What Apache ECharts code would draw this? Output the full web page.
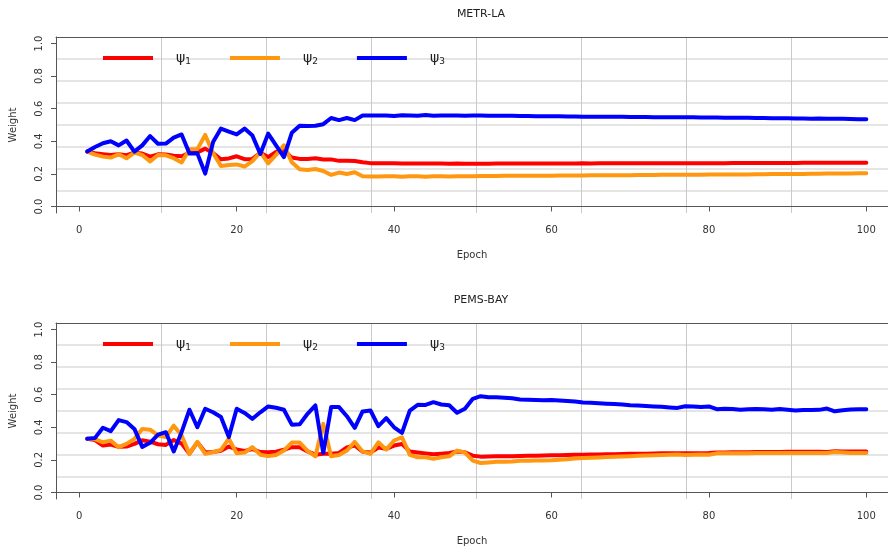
<!DOCTYPE html>
<html>
<head>
<meta charset="utf-8">
<script src="https://cdn.jsdelivr.net/npm/echarts@6/dist/echarts.min.js"></script>
<style>
  html, body { margin: 0; padding: 0; background: #fff; }
  #chart { width: 888px; height: 548px; }
</style>
</head>
<body>
<div id="chart"></div>
<script>
// epochs 1..100
const epochs = Array.from({ length: 100 }, (_, i) => i + 1);
const xTicks = [0, 20, 40, 60, 80, 100];
const yTicks = [0, 0.2, 0.4, 0.6, 0.8, 1.0];
const titles = ["METR-LA", "PEMS-BAY"];
const names = ["ψ1", "ψ2", "ψ3"];
const colors = ["#ff0000", "#ff9810", "#0000ff"];

// METR-LA
const metrPsi1 = [
  0.337, 0.327, 0.321, 0.316, 0.320, 0.315, 0.330, 0.325, 0.306, 0.320,
  0.319, 0.312, 0.308, 0.330, 0.332, 0.355, 0.327, 0.290, 0.295, 0.308,
  0.290, 0.292, 0.330, 0.303, 0.335, 0.345, 0.300, 0.292, 0.291, 0.296,
  0.288, 0.289, 0.280, 0.281, 0.279, 0.271, 0.266, 0.266, 0.265, 0.265,
  0.264, 0.264, 0.263, 0.264, 0.263, 0.263, 0.262, 0.263, 0.262, 0.262,
  0.262, 0.262, 0.263, 0.263, 0.263, 0.263, 0.263, 0.264, 0.264, 0.264,
  0.264, 0.264, 0.264, 0.265, 0.264, 0.265, 0.265, 0.265, 0.265, 0.265,
  0.265, 0.265, 0.266, 0.266, 0.266, 0.266, 0.266, 0.266, 0.266, 0.266,
  0.266, 0.266, 0.267, 0.267, 0.267, 0.267, 0.267, 0.267, 0.267, 0.267,
  0.267, 0.268, 0.268, 0.268, 0.268, 0.268, 0.268, 0.269, 0.269, 0.269
];
const metrPsi2 = [
  0.337, 0.318, 0.306, 0.300, 0.320, 0.296, 0.330, 0.316, 0.277, 0.316,
  0.314, 0.296, 0.270, 0.351, 0.352, 0.439, 0.327, 0.249, 0.255, 0.258,
  0.245, 0.278, 0.333, 0.265, 0.316, 0.375, 0.272, 0.228, 0.224, 0.230,
  0.218, 0.194, 0.208, 0.199, 0.210, 0.186, 0.184, 0.184, 0.185, 0.186,
  0.183, 0.185, 0.186, 0.182, 0.185, 0.186, 0.184, 0.186, 0.186, 0.186,
  0.187, 0.187, 0.187, 0.188, 0.188, 0.188, 0.188, 0.189, 0.189, 0.189,
  0.190, 0.190, 0.190, 0.190, 0.191, 0.191, 0.191, 0.192, 0.192, 0.192,
  0.193, 0.193, 0.193, 0.194, 0.194, 0.194, 0.195, 0.195, 0.195, 0.196,
  0.196, 0.196, 0.197, 0.197, 0.197, 0.198, 0.198, 0.199, 0.199, 0.200,
  0.200, 0.200, 0.201, 0.201, 0.202, 0.202, 0.203, 0.203, 0.204, 0.204
];
const metrPsi3 = [
  0.337, 0.365, 0.388, 0.400, 0.375, 0.405, 0.337, 0.375, 0.432, 0.385,
  0.386, 0.423, 0.442, 0.325, 0.326, 0.202, 0.395, 0.478, 0.460, 0.442,
  0.478, 0.435, 0.322, 0.447, 0.375, 0.303, 0.452, 0.495, 0.494, 0.495,
  0.505, 0.543, 0.530, 0.543, 0.530, 0.558, 0.559, 0.558, 0.559, 0.555,
  0.560, 0.558, 0.557, 0.561, 0.557, 0.559, 0.558, 0.558, 0.557, 0.558,
  0.558, 0.557, 0.557, 0.556, 0.556, 0.555, 0.555, 0.554, 0.554, 0.553,
  0.553, 0.552, 0.552, 0.551, 0.551, 0.551, 0.550, 0.550, 0.550, 0.549,
  0.549, 0.549, 0.548, 0.548, 0.548, 0.547, 0.547, 0.547, 0.546, 0.546,
  0.546, 0.545, 0.545, 0.544, 0.544, 0.543, 0.543, 0.542, 0.542, 0.541,
  0.540, 0.540, 0.539, 0.540, 0.539, 0.538, 0.538, 0.537, 0.536, 0.535
];

// PEMS-BAY
const pemsPsi1 = [
  0.330, 0.322, 0.288, 0.294, 0.280, 0.282, 0.298, 0.320, 0.312, 0.296,
  0.292, 0.322, 0.300, 0.238, 0.308, 0.247, 0.248, 0.256, 0.282, 0.264,
  0.255, 0.266, 0.248, 0.247, 0.250, 0.262, 0.278, 0.278, 0.252, 0.232,
  0.238, 0.238, 0.243, 0.276, 0.288, 0.250, 0.245, 0.276, 0.268, 0.288,
  0.298, 0.251, 0.245, 0.240, 0.234, 0.238, 0.243, 0.251, 0.247, 0.226,
  0.220, 0.221, 0.222, 0.222, 0.223, 0.224, 0.225, 0.226, 0.227, 0.228,
  0.229, 0.230, 0.231, 0.232, 0.233, 0.233, 0.234, 0.235, 0.236, 0.237,
  0.237, 0.238, 0.239, 0.240, 0.240, 0.241, 0.241, 0.240, 0.241, 0.242,
  0.246, 0.246, 0.247, 0.247, 0.247, 0.248, 0.248, 0.248, 0.249, 0.250,
  0.250, 0.250, 0.250, 0.250, 0.249, 0.253, 0.251, 0.251, 0.251, 0.251
];
const pemsPsi2 = [
  0.330, 0.328, 0.308, 0.318, 0.278, 0.298, 0.328, 0.390, 0.385, 0.350,
  0.340, 0.410, 0.350, 0.237, 0.310, 0.237, 0.247, 0.262, 0.330, 0.240,
  0.245, 0.278, 0.232, 0.223, 0.230, 0.257, 0.306, 0.306, 0.255, 0.222,
  0.421, 0.222, 0.230, 0.257, 0.310, 0.252, 0.237, 0.308, 0.263, 0.319,
  0.339, 0.231, 0.216, 0.216, 0.206, 0.216, 0.222, 0.257, 0.245, 0.196,
  0.181, 0.184, 0.188, 0.188, 0.190, 0.194, 0.195, 0.196, 0.197, 0.198,
  0.201, 0.204, 0.208, 0.211, 0.213, 0.215, 0.217, 0.219, 0.221, 0.223,
  0.225, 0.227, 0.229, 0.230, 0.231, 0.233, 0.230, 0.231, 0.233, 0.231,
  0.240, 0.240, 0.241, 0.241, 0.241, 0.242, 0.242, 0.242, 0.243, 0.243,
  0.243, 0.243, 0.243, 0.243, 0.242, 0.248, 0.245, 0.243, 0.242, 0.242
];
const pemsPsi3 = [
  0.330, 0.335, 0.397, 0.376, 0.444, 0.432, 0.390, 0.280, 0.305, 0.355,
  0.370, 0.252, 0.370, 0.508, 0.400, 0.514, 0.492, 0.463, 0.340, 0.514,
  0.488, 0.452, 0.492, 0.528, 0.520, 0.508, 0.416, 0.418, 0.483, 0.534,
  0.243, 0.524, 0.524, 0.468, 0.397, 0.497, 0.503, 0.407, 0.456, 0.400,
  0.366, 0.503, 0.538, 0.537, 0.554, 0.540, 0.535, 0.489, 0.514, 0.575,
  0.591, 0.585, 0.584, 0.582, 0.578, 0.571, 0.569, 0.568, 0.566, 0.567,
  0.564, 0.562, 0.558, 0.552, 0.550, 0.547, 0.545, 0.543, 0.540, 0.535,
  0.533, 0.531, 0.528, 0.526, 0.522, 0.519, 0.529, 0.528, 0.524, 0.528,
  0.511, 0.514, 0.512, 0.508, 0.510, 0.512, 0.511, 0.507, 0.512, 0.507,
  0.503, 0.506, 0.506, 0.507, 0.515, 0.498, 0.505, 0.509, 0.510, 0.510
];

const panels = [
  [metrPsi1, metrPsi2, metrPsi3],
  [pemsPsi1, pemsPsi2, pemsPsi3]
];

const FONT = "DejaVu Sans";
const plotTops = [37, 323];
const plotH = 176;
const plotLeft = 56;
// the plot box runs past the right edge of the picture; the grid is clamped
// to the canvas, so the axes are cut at the canvas edge instead
const plotW = 888 - plotLeft;
const pxPerEpoch = 7.87;
const xMin = -2.96;
const xMax = xMin + plotW / pxPerEpoch;
const cellW = 840 / 8;

const chart = echarts.init(document.getElementById("chart"), null, { renderer: "canvas" });

const grid = [];
const xAxis = [];
const yAxis = [];
const series = [];
const legend = [];
const title = [];

panels.forEach((lines, p) => {
  grid.push({ left: plotLeft, top: plotTops[p], width: plotW, height: plotH, show: false });

  title.push({
    text: titles[p],
    left: 476,
    top: plotTops[p] - 33,
    textAlign: "center",
    textStyle: { fontFamily: FONT, fontSize: 11, fontWeight: "normal", color: "#222" }
  });

  xAxis.push({
    type: "value",
    gridIndex: p,
    min: xMin,
    max: xMax,
    name: "Epoch",
    nameLocation: "middle",
    nameGap: 37,
    nameTextStyle: { fontFamily: FONT, fontSize: 10, color: "#333" },
    axisLine: { show: true, lineStyle: { color: "#555", width: 1 } },
    axisTick: { show: true, length: 5, customValues: xTicks, lineStyle: { color: "#555" } },
    axisLabel: { customValues: xTicks, margin: 12, fontFamily: FONT, fontSize: 10, color: "#333" },
    splitLine: { show: false }
  });
  // grid lines (R grid(): 8 equal cells) + top border
  xAxis.push({
    type: "value",
    gridIndex: p,
    position: "top",
    min: 0,
    max: plotW / cellW,
    interval: 1,
    axisLine: { show: true, onZero: false, lineStyle: { color: "#555", width: 1 } },
    axisTick: { show: false },
    axisLabel: { show: false },
    splitLine: { show: true, showMinLine: false, showMaxLine: false, lineStyle: { color: "#cacaca", width: 1 } }
  });

  yAxis.push({
    type: "value",
    gridIndex: p,
    min: -0.04,
    max: 1.04,
    name: "Weight",
    nameLocation: "middle",
    nameRotate: 90,
    nameGap: 38,
    nameTextStyle: { fontFamily: FONT, fontSize: 10, color: "#333" },
    axisLine: { show: true, onZero: false, lineStyle: { color: "#555", width: 1 } },
    axisTick: { show: true, length: 5, customValues: yTicks, lineStyle: { color: "#555" } },
    axisLabel: {
      customValues: yTicks,
      rotate: 90,
      margin: 12,
      fontFamily: FONT,
      fontSize: 10,
      color: "#333",
      formatter: v => v.toFixed(1)
    },
    splitLine: { show: false }
  });
  yAxis.push({
    type: "value",
    gridIndex: p,
    position: "right",
    min: 0,
    max: 8,
    interval: 1,
    axisLine: { show: false },
    axisTick: { show: false },
    axisLabel: { show: false },
    splitLine: { show: true, showMinLine: false, showMaxLine: false, lineStyle: { color: "#dcdcdc", width: 1.5 } }
  });

  lines.forEach((vals, k) => {
    series.push({
      name: names[k],
      type: "line",
      xAxisIndex: p * 2,
      yAxisIndex: p * 2,
      data: epochs.map((e, i) => [e, vals[i]]),
      showSymbol: false,
      silent: true,
      z: 3 + k,
      lineStyle: { color: colors[k], width: 4, join: "round", cap: "round" },
      itemStyle: { color: colors[k] }
    });
  });

  legend.push({
    data: names,
    left: 103,
    top: plotTops[p] + 14,
    padding: 0,
    orient: "horizontal",
    icon: "rect",
    itemWidth: 50,
    itemHeight: 4,
    itemGap: 39,
    selectedMode: false,
    formatter: n => "ψ{sub|" + n.slice(1) + "}",
    textStyle: {
      fontFamily: FONT,
      fontSize: 14,
      color: "#222",
      padding: [0, 0, 0, 18],
      rich: {
        sub: { fontSize: 9, fontFamily: FONT, color: "#222", padding: [7, 0, 0, 0] }
      }
    }
  });
});

chart.setOption({
  animation: false,
  backgroundColor: "#fff",
  title,
  legend,
  grid,
  xAxis,
  yAxis,
  series
});
</script>
</body>
</html>
